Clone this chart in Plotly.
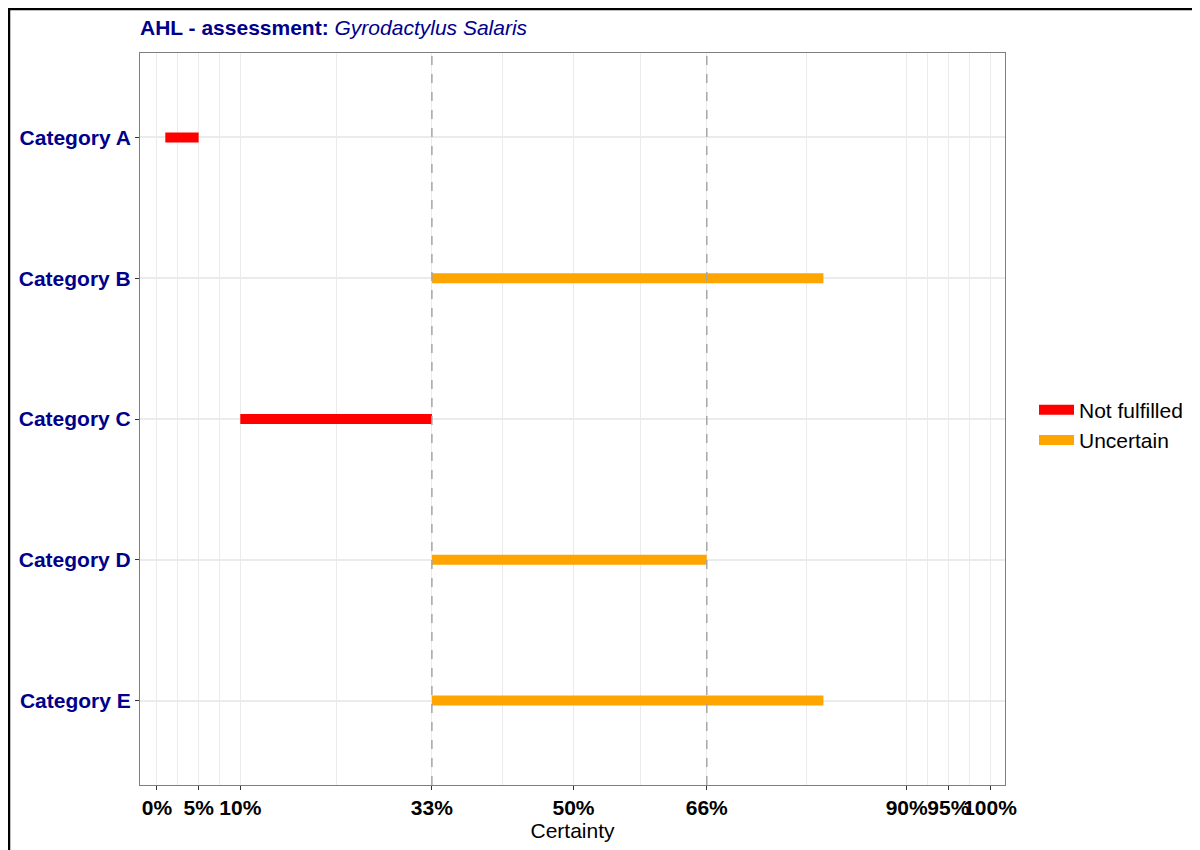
import plotly.graph_objects as go

# data
categories = ["Category A", "Category B", "Category C", "Category D", "Category E"]
start_pct = [1, 33, 10, 33, 33]
end_pct = [5, 80, 33, 66, 80]
status = ["Not fulfilled", "Uncertain", "Not fulfilled", "Uncertain", "Uncertain"]

break_vals = [0, 5, 10, 33, 50, 66, 90, 95, 100]
break_labels = ["0%", "5%", "10%", "33%", "50%", "66%", "90%", "95%", "100%"]
threshold_lines = [33, 66]

colors = {"Not fulfilled": "#FF0000", "Uncertain": "#FFA500"}
FONT = "Liberation Sans, Arial, sans-serif"
NAVY = "#00008B"

W, H = 1192, 842
L, R, T, B = 132, 195, 45, 65

fig = go.Figure()

# one trace per status, segments split by None
for st in ["Not fulfilled", "Uncertain"]:
    xs, ys = [], []
    for cat, s, e, stt in zip(categories, start_pct, end_pct, status):
        if stt == st:
            xs += [s, e, None]
            ys += [cat, cat, None]
    fig.add_trace(go.Scatter(
        x=xs, y=ys, mode="lines", name=st,
        line=dict(color=colors[st], width=10),
        hoverinfo="skip",
    ))

# dashed threshold lines
for v in threshold_lines:
    fig.add_vline(x=v, line=dict(color="#a6a6a6", width=1.5, dash="dash"), layer="above")

# minor grid at midpoints between breaks (like ggplot)
minor_vals = [(a + b) / 2 for a, b in zip(break_vals[:-1], break_vals[1:])]

pw, ph = W - L - R, H - T - B

fig.update_layout(
    width=W, height=H,
    margin=dict(l=L, r=R, t=T, b=B, autoexpand=False),
    paper_bgcolor="white", plot_bgcolor="white",
    font=dict(family=FONT, size=21, color="black"),
    title=dict(
        text="<b>AHL - assessment:</b> <i>Gyrodactylus Salaris</i>",
        x=L / W, xanchor="left", xref="container",
        y=1 - 20 / H, yanchor="middle", yref="container",
        font=dict(family=FONT, size=21, color=NAVY),
    ),
    legend=dict(
        x=(1026 - L) / pw, xanchor="left", y=(T + ph - 417) / ph, yanchor="middle",
        font=dict(family=FONT, size=21, color="black"),
        itemwidth=35,
        tracegroupgap=2,
    ),
    xaxis=dict(
        range=[-2.04, 101.8],
        tickmode="array", tickvals=break_vals, ticktext=break_labels,
        tickangle=0,
        tickfont=dict(family=FONT, size=21, color="black", weight="bold"),
        ticks="outside", ticklen=4, tickcolor="#333333",
        showgrid=True, gridcolor="#ebebeb", gridwidth=1,
        minor=dict(tickmode="array", tickvals=minor_vals, showgrid=True,
                   gridcolor="#ebebeb", gridwidth=1, ticks=""),
        showline=True, linecolor="#7f7f7f", linewidth=1, mirror=True,
        zeroline=False, automargin=False,
        title=dict(text="Certainty", standoff=4,
                   font=dict(family=FONT, size=21, color="black")),
    ),
    yaxis=dict(
        type="category", categoryorder="array", categoryarray=categories,
        range=[4.6, -0.6],
        tickfont=dict(family=FONT, size=21, color=NAVY, weight="bold"),
        ticks="outside", ticklen=4, tickcolor="#333333",
        showgrid=True, gridcolor="#ebebeb", gridwidth=1.5,
        showline=True, linecolor="#7f7f7f", linewidth=1, mirror=True,
        zeroline=False, automargin=False,
    ),
)

# outer black frame along the top and left edges
fig.add_shape(type="rect", xref="paper", yref="paper",
              x0=(1 - L) / pw, x1=1.5, y0=-0.5, y1=(T + ph - 1) / ph,
              line=dict(color="black", width=2.5), layer="below")

fig.write_html("out.html")
